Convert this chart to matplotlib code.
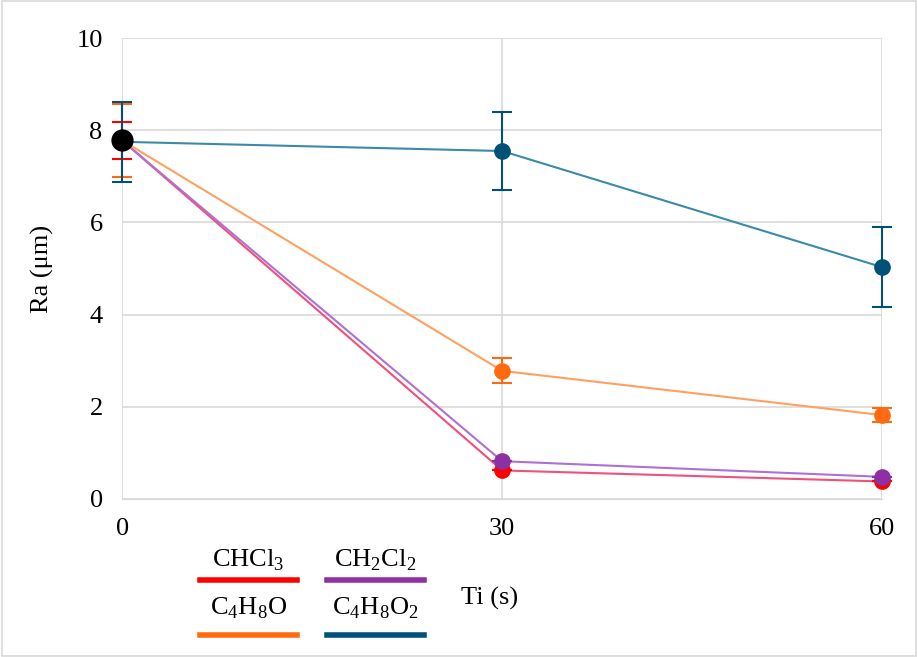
import numpy as np
import matplotlib.pyplot as plt
from matplotlib.lines import Line2D

plt.rcParams['font.family'] = ['Liberation Serif', 'DejaVu Serif']
plt.rcParams['mathtext.fontset'] = 'custom'
plt.rcParams['mathtext.rm'] = 'Liberation Serif'

# time (s)
ti = [0, 30, 60]

# Ra (um) for each solvent
names = ['CHCl$_3$', 'CH$_2$Cl$_2$', 'C$_4$H$_8$O', 'C$_4$H$_8$O$_2$']
colors = ['#ff0000', '#8e2fa6', '#ff6a10', '#005078']
line_colors = ['#f0507a', '#b070d0', '#ffa060', '#3a8aaa']
ra = [
    [7.78, 0.62, 0.38],
    [7.78, 0.82, 0.48],
    [7.78, 2.78, 1.82],
    [7.75, 7.55, 5.03],
]
err = [
    [0.40, 0.0, 0.0],
    [0.0, 0.0, 0.0],
    [0.79, 0.27, 0.15],
    [0.87, 0.85, 0.87],
]
start_ra = 7.78

fig = plt.figure(figsize=(9.18, 6.57), dpi=100)
ax = fig.add_axes([0.133, 0.2405, 0.828, 0.7015])

for i in range(4):
    ax.plot(ti, ra[i], color=line_colors[i], lw=1.5, zorder=2, clip_on=False)
    ax.errorbar(ti, ra[i], yerr=err[i], fmt='none', ecolor=colors[i],
                elinewidth=1.5, capsize=7, capthick=1.5, zorder=3, clip_on=False)
    ax.plot(ti[1:], ra[i][1:], 'o', color=colors[i], ms=11, zorder=4, clip_on=False)

ax.plot([ti[0]], [start_ra], 'o', color='black', ms=15, zorder=5, clip_on=False)

ax.set_xlim(0, 60)
ax.set_ylim(0, 10)
ax.set_xticks([0, 30, 60])
ax.set_yticks([0, 2, 4, 6, 8, 10])
ax.grid(True, color='#d9d9d9', lw=1.2)
ax.set_axisbelow(True)
for s in ['top', 'right', 'left']:
    ax.spines[s].set_visible(False)
ax.spines['bottom'].set_color('#d9d9d9')
ax.tick_params(length=0, labelsize=19, pad=14)
ax.set_ylabel('Ra (\u03bcm)', fontsize=19, labelpad=16)

# custom legend under the plot
leg_x = [(200, 297), (327, 424)]
leg_y = [(560, 580), (608, 635)]
for i in range(4):
    col = i % 2
    row = i // 2
    x0, x1 = leg_x[col]
    ty, ly = leg_y[row]
    fig.text((x0 + x1) / 2 / 918, 1 - ty / 657, names[i], ha='center', va='center', fontsize=19)
    fig.add_artist(Line2D([x0 / 918, x1 / 918], [1 - ly / 657, 1 - ly / 657],
                          color=colors[i], lw=4))
fig.text(490 / 918, 1 - 598 / 657, 'Ti (s)', ha='center', va='center', fontsize=19)

fig.add_artist(plt.Rectangle((0.002, 0.002), 0.996, 0.996, fill=False,
                             edgecolor='#d9d9d9', lw=1.2))

fig.savefig('out.png', dpi=100)
